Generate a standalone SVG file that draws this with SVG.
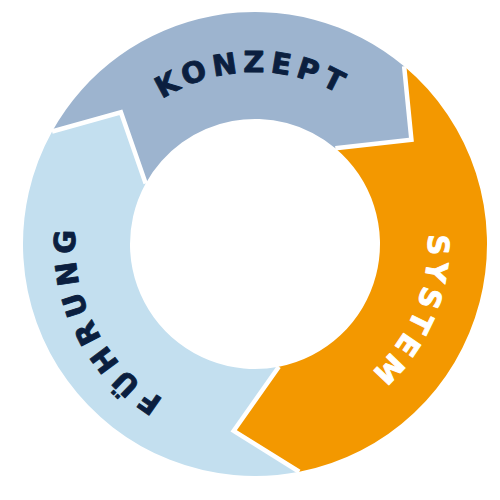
<svg xmlns="http://www.w3.org/2000/svg" width="500" height="500" viewBox="0 0 500 500">
<style>
.lbl{font-family:"DejaVu Sans","Liberation Sans",sans-serif;font-weight:bold;font-size:29px;stroke-width:0.9;stroke-linejoin:round}
.dark{fill:#0B1F3F;stroke:#0B1F3F}
.light{fill:#FFFFFF;stroke:#FFFFFF}
.sep{fill:none;stroke:#FFFFFF;stroke-width:4.5;stroke-linejoin:miter}
</style>
<defs>
<path id="arcK" d="M 82.03 247.02 A 173 173 0 0 1 427.97 240.98"/>
<path id="arcS" d="M 322.60 84.75 A 173 173 0 0 1 187.40 403.25"/>
<path id="arcF" d="M 335.76 405.98 A 181 181 0 0 1 174.24 82.02"/>
</defs>
<rect width="500" height="500" fill="#FFFFFF"/>
<g id="konzept">
<path fill="#9DB4CF" d="M 52.09 131.52 A 232 232 0 0 1 404.13 66.28 L 411.41 139.69 L 335.35 148.24 A 125 125 0 0 0 145.67 183.40 L 120.91 112.23 Z"/>
<text class="lbl dark" letter-spacing="5.5"><textPath href="#arcK" startOffset="50%" text-anchor="middle">KONZEPT</textPath></text>
</g>
<g id="system">
<path fill="#F39800" d="M 404.13 66.28 A 232 232 0 0 1 299.27 471.74 L 233.72 430.79 L 278.85 366.70 A 125 125 0 0 0 335.35 148.24 L 411.41 139.69 Z"/>
<text class="lbl light" letter-spacing="4.5"><textPath href="#arcS" startOffset="50%" text-anchor="middle">SYSTEM</textPath></text>
</g>
<g id="fuehrung">
<path fill="#C3DFEF" d="M 299.27 471.74 A 232 232 0 0 1 52.09 131.52 L 120.91 112.23 L 145.67 183.40 A 125 125 0 0 0 278.85 366.70 L 233.72 430.79 Z"/>
<text class="lbl dark" letter-spacing="6.5"><textPath href="#arcF" startOffset="50%" text-anchor="middle">FÜHRUNG</textPath></text>
</g>
<g id="connectors">
<polyline class="sep" points="404.13,66.28 411.41,139.69 335.35,148.24"/>
<polyline class="sep" points="299.27,471.74 233.72,430.79 278.85,366.70"/>
<polyline class="sep" points="52.09,131.52 120.91,112.23 145.67,183.40"/>
</g>
</svg>
